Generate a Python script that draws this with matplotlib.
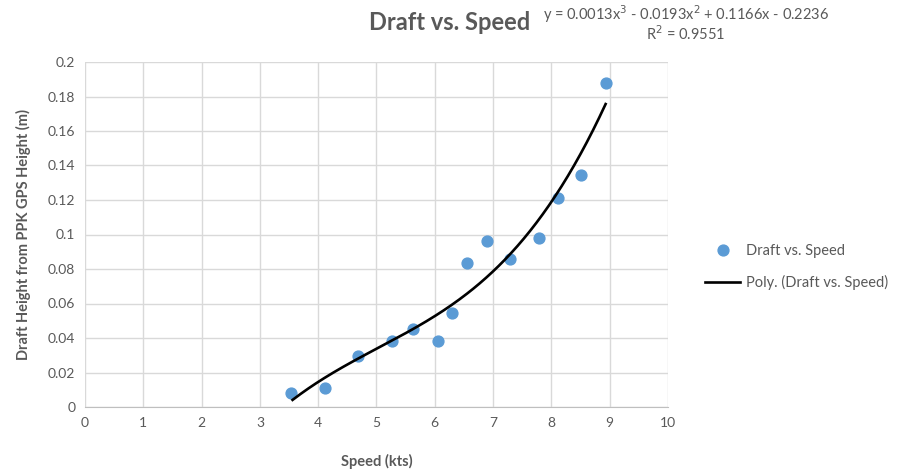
import matplotlib.pyplot as plt
import numpy as np

plt.rcParams['font.family'] = ['Lato', 'DejaVu Sans']

# speed (kts) vs draft (m)
speed = [3.54, 4.12, 4.69, 5.27, 5.62, 6.05, 6.29, 6.55, 6.89, 7.29, 7.78, 8.11, 8.51, 8.93]
draft = [0.008, 0.011, 0.0293, 0.038, 0.0453, 0.038, 0.0545, 0.0835, 0.096, 0.0858, 0.098, 0.121, 0.1345, 0.188]

x_ticks = list(range(0, 11))
y_ticks = [0, 0.02, 0.04, 0.06, 0.08, 0.1, 0.12, 0.14, 0.16, 0.18, 0.2]

eq_text = "y = 0.0013x$^3$ - 0.0193x$^2$ + 0.1166x - 0.2236"
r2_text = "R$^2$ = 0.9551"

grey = '#595959'
dot_col = '#5b9bd5'

fig = plt.figure(figsize=(9.09, 4.75), dpi=100)
ax = fig.add_axes([85/909, 1 - 407/475, (668-85)/909, (407-62)/475])

# 3rd order poly trendline over the data range
coef = np.polyfit(speed, draft, 3)
xs = np.linspace(min(speed) + 0.02, max(speed), 200)
ax.plot(xs, np.polyval(coef, xs), color='black', linewidth=1.9, label='Poly. (Draft vs. Speed)', zorder=3)
ax.plot(speed, draft, 'o', color=dot_col, markersize=7.8, label='Draft vs. Speed', zorder=2)

ax.set_xlim(0, 10)
ax.set_ylim(0, 0.2)
ax.set_xticks(x_ticks)
ax.set_yticks(y_ticks)
ax.set_yticklabels([f'{v:g}' for v in y_ticks])
ax.grid(True, color='#d9d9d9', linewidth=1)
ax.set_axisbelow(True)
for s in ['top', 'right', 'left']:
    ax.spines[s].set_visible(False)
ax.spines['bottom'].set_color('#bfbfbf')
ax.tick_params(length=0, colors=grey, labelsize=10, pad=7)

ax.set_xlabel('Speed (kts)', fontsize=10.5, fontweight='bold', color=grey, labelpad=18)
ax.set_ylabel('Draft Height from PPK GPS Height (m)', fontsize=10.5, fontweight='bold', color=grey, labelpad=12)

fig.text(450/909, 1 - 22/475, 'Draft vs. Speed', fontsize=17, fontweight='bold', color=grey, ha='center', va='center')
fig.text(686/909, 1 - 14/475, eq_text, fontsize=10.5, color=grey, ha='center', va='center')
fig.text(686/909, 1 - 34/475, r2_text, fontsize=10.5, color=grey, ha='center', va='center')

h, l = ax.get_legend_handles_labels()
fig.legend(h[::-1], l[::-1], loc='center left', bbox_to_anchor=(692/909, 1 - 267/475),
           frameon=False, fontsize=10.5, labelcolor=grey, handlelength=2.4, handletextpad=0.4,
           labelspacing=1.2)

fig.savefig('out.png', dpi=100)
